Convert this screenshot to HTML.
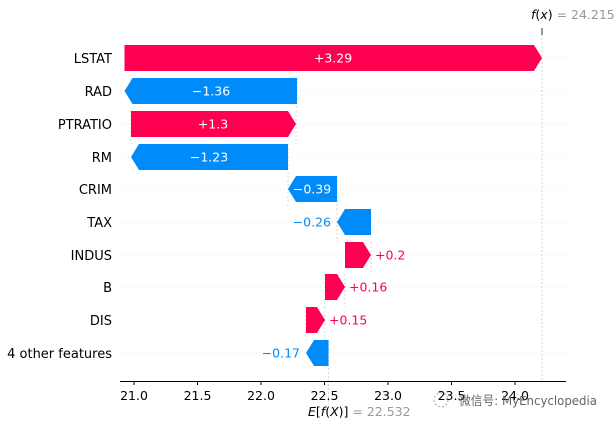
<!DOCTYPE html>
<html><head><meta charset="utf-8"><style>
body{margin:0;background:#fff;}
svg text{font-family:"DejaVu Sans","Liberation Sans",sans-serif;}
</style></head><body>
<svg width="616" height="427" viewBox="0 0 616 427" xmlns="http://www.w3.org/2000/svg">
<g stroke="#e4e4e4" stroke-width="1" stroke-dasharray="1,3">
<line x1="120" y1="58" x2="570" y2="58"/><line x1="120" y1="91" x2="570" y2="91"/>
<line x1="120" y1="124" x2="570" y2="124"/><line x1="120" y1="157" x2="570" y2="157"/>
<line x1="120" y1="189" x2="570" y2="189"/><line x1="120" y1="222" x2="570" y2="222"/>
<line x1="120" y1="255" x2="570" y2="255"/><line x1="120" y1="287" x2="570" y2="287"/>
<line x1="120" y1="320" x2="570" y2="320"/><line x1="120" y1="353" x2="570" y2="353"/>
</g>
<g stroke="#ccc" stroke-width="0.8" stroke-dasharray="2,2">
<line x1="542" y1="30" x2="542" y2="381"/>
<line x1="328.5" y1="340" x2="328.5" y2="405"/>
<line x1="297" y1="78" x2="297" y2="111"/><line x1="131" y1="111" x2="131" y2="144"/>
<line x1="296" y1="111" x2="296" y2="144"/><line x1="288" y1="144" x2="288" y2="176"/>
<line x1="288" y1="176" x2="288" y2="209"/><line x1="337" y1="176" x2="337" y2="209"/>
<line x1="337" y1="209" x2="337" y2="242"/><line x1="371" y1="242" x2="371" y2="274"/>
<line x1="345" y1="274" x2="345" y2="307"/><line x1="325" y1="274" x2="325" y2="307"/>
<line x1="325" y1="307" x2="325" y2="340"/><line x1="306" y1="307" x2="306" y2="340"/>
</g>
<line x1="542" y1="28" x2="542" y2="35" stroke="#333"/>
<g>
<polygon points="124.5,45 534,45 542,58 534,71 124.5,71" fill="#ff0051"/>
<polygon points="297,78 132.5,78 124.5,91 132.5,104 297,104" fill="#008bfb"/>
<polygon points="131,111 288,111 296,124 288,137 131,137" fill="#ff0051"/>
<polygon points="288,144 139,144 131,157 139,170 288,170" fill="#008bfb"/>
<polygon points="337,176 296,176 288,189 296,202 337,202" fill="#008bfb"/>
<polygon points="371,209 345,209 337,222 345,235 371,235" fill="#008bfb"/>
<polygon points="345,242 363,242 371,255 363,268 345,268" fill="#ff0051"/>
<polygon points="325,274 337,274 345,287 337,300 325,300" fill="#ff0051"/>
<polygon points="306,307 317,307 325,320 317,333 306,333" fill="#ff0051"/>
<polygon points="328.5,340 314,340 306,353 314,366 328.5,366" fill="#008bfb"/>
</g>
<g font-size="12.5" fill="#fff" text-anchor="middle">
<text x="333" y="62.5">+3.29</text>
<text x="211" y="95.5">−1.36</text>
<text x="213" y="128.5">+1.3</text>
<text x="209" y="161.5">−1.23</text>
<text x="312" y="193.5">−0.39</text>
</g>
<g font-size="12.5">
<text x="331" y="226.5" fill="#008bfb" text-anchor="end">−0.26</text>
<text x="375" y="259.5" fill="#ff0051">+0.2</text>
<text x="349" y="291.5" fill="#ff0051">+0.16</text>
<text x="329" y="324.5" fill="#ff0051">+0.15</text>
<text x="300" y="357.5" fill="#008bfb" text-anchor="end">−0.17</text>
</g>
<g font-size="13" fill="#000" text-anchor="end">
<text x="112" y="63">LSTAT</text><text x="112" y="96">RAD</text>
<text x="112" y="129">PTRATIO</text><text x="112" y="162">RM</text>
<text x="112" y="194">CRIM</text><text x="112" y="227">TAX</text>
<text x="112" y="260">INDUS</text><text x="112" y="292">B</text>
<text x="112" y="325">DIS</text><text x="112" y="358">4 other features</text>
</g>
<line x1="120" y1="381.5" x2="566" y2="381.5" stroke="#000" stroke-width="1"/>
<g stroke="#000"><line x1="134" y1="381" x2="134" y2="385"/><line x1="197.5" y1="381" x2="197.5" y2="385"/><line x1="261" y1="381" x2="261" y2="385"/><line x1="324.5" y1="381" x2="324.5" y2="385"/><line x1="388" y1="381" x2="388" y2="385"/><line x1="451.5" y1="381" x2="451.5" y2="385"/><line x1="515" y1="381" x2="515" y2="385"/></g>
<g font-size="12.5" text-anchor="middle" fill="#000">
<text x="134" y="400">21.0</text><text x="197.5" y="400">21.5</text><text x="261" y="400">22.0</text>
<text x="324.5" y="400">22.5</text><text x="388" y="400">23.0</text><text x="451.5" y="400">23.5</text><text x="515" y="400">24.0</text>
</g>
<text x="308" y="416" font-size="12.5"><tspan font-style="italic">E</tspan>[<tspan font-style="italic">f</tspan>(<tspan font-style="italic">X</tspan>)] <tspan fill="#999">= 22.532</tspan></text>
<text x="531" y="19" font-size="12.5"><tspan font-style="italic">f</tspan>(<tspan font-style="italic">x</tspan>) <tspan fill="#999">= 24.215</tspan></text>
<circle cx="441" cy="400" r="7" fill="none" stroke="#aaa" stroke-dasharray="2,2"/>
<text x="459" y="405" font-size="12.5" fill="#666" textLength="138" lengthAdjust="spacingAndGlyphs" font-family="Liberation Sans,Noto Sans CJK SC,sans-serif">微信号: MyEncyclopedia</text>
</svg>
</body></html>
